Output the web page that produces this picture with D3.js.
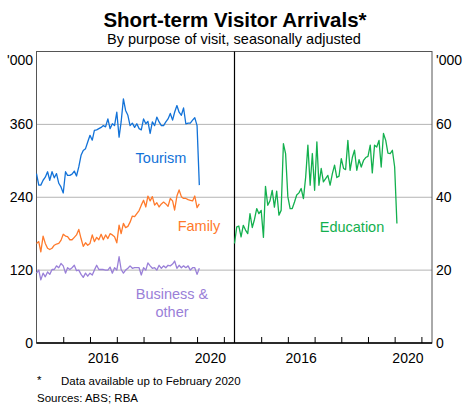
<!DOCTYPE html>
<html>
<head>
<meta charset="utf-8">
<script src="https://cdn.jsdelivr.net/npm/d3@7"></script>
<style>
  body { margin: 0; background: #fff; }
  svg { display: block; font-family: Arial, "Liberation Sans", sans-serif; }
</style>
</head>
<body>
<div id="chart"></div>
<script>
// Monthly values, January 2014 to February 2020 ('000)
const tourism = [279,260,260,268,273,282,268,282,272,279,263,257,247,282,276,276,278,283,275,290,
  309,317,320,331,342,334,350,351,353,355,358,356,369,353,361,358,380,339,364,402,
  383,375,358,362,355,361,353,351,369,361,365,345,364,358,372,364,358,358,364,369,
  378,367,380,391,380,375,387,361,362,362,367,371,358,260];
const family = [164,167,150,176,164,156,154,156,161,163,164,169,179,176,175,170,170,174,178,187,
  172,159,165,161,164,178,167,174,170,179,170,178,172,180,178,175,165,194,180,197,
  190,192,199,209,208,213,218,227,235,224,242,234,241,227,231,224,229,232,229,225,
  238,234,219,242,252,241,238,238,236,235,234,242,223,229];
const business = [115,120,104,115,109,117,113,121,121,127,124,131,127,115,124,121,124,128,119,120,
  113,108,115,110,115,112,120,128,121,121,121,120,120,125,115,124,120,142,121,115,
  120,123,127,123,124,124,124,112,124,120,132,127,123,124,120,128,123,127,124,128,
  127,130,135,123,128,124,127,124,127,120,124,124,113,123];
const education = [27.3,31.9,32.1,29.1,32.3,31.0,30.0,35.5,31.7,33.9,
  36.9,35.5,36.4,29.0,43.0,37.8,39.0,41.9,37.3,41.7,
  35.1,36.4,54.7,52.0,40.1,36.9,36.9,38.7,40.6,41.2,
  42.4,39.6,45.6,54.3,43.3,52.0,41.9,55.2,43.3,47.9,
  44.2,45.1,46.0,43.3,46.5,48.8,45.4,45.8,50.6,47.9,
  47.6,55.6,47.4,50.9,52.9,47.4,50.3,48.3,50.1,50.9,
  51.2,54.3,46.7,54.3,53.8,55.6,48.3,57.5,55.6,52.1,
  52.0,52.9,48.3,32.8];

const leftTicks = [0, 120, 240, 360];
const rightTicks = [0, 20, 40, 60];
const yearLabels = [2016, 2020];

const months = tourism.map((_, i) => new Date(2014, i, 1));

const W = 463, H = 406;
const plotTop = 51.5, plotBottom = 343;
const xL = [36.5, 234.5], xR = [234.5, 432];

const svg = d3.select("#chart").append("svg")
  .attr("width", W).attr("height", H);

const domain = [new Date(2014, 0, 1), new Date(2021, 4, 26)];
const xLeft = d3.scaleTime().domain(domain).range(xL);
const xRight = d3.scaleTime().domain(domain).range(xR);
const yLeft = d3.scaleLinear().domain([0, 480]).range([plotBottom, plotTop]);
const yRight = d3.scaleLinear().domain([0, 80]).range([plotBottom, plotTop]);

// gridlines
svg.append("g").selectAll("line")
  .data(leftTicks.filter(d => d > 0))
  .join("line")
  .attr("x1", xL[0]).attr("x2", xR[1])
  .attr("y1", d => yLeft(d)).attr("y2", d => yLeft(d))
  .attr("stroke", "#b4b4b4").attr("stroke-width", 1);

// frame
svg.append("rect")
  .attr("x", xL[0]).attr("y", plotTop)
  .attr("width", xR[1] - xL[0]).attr("height", plotBottom - plotTop)
  .attr("fill", "none").attr("stroke", "#555").attr("stroke-width", 1);
svg.append("line")
  .attr("x1", xL[1]).attr("x2", xL[1]).attr("y1", plotTop).attr("y2", plotBottom)
  .attr("stroke", "#000").attr("stroke-width", 1.2);
svg.append("line")
  .attr("x1", xL[0]).attr("x2", xR[1]).attr("y1", plotBottom).attr("y2", plotBottom)
  .attr("stroke", "#000").attr("stroke-width", 1.5);

// x ticks (inside, yearly)
[xLeft, xRight].forEach(x => {
  const g = svg.append("g").attr("transform", `translate(0,${plotBottom})`);
  g.call(d3.axisBottom(x).ticks(d3.timeYear.every(1)).tickSize(-6).tickFormat(""));
  g.select(".domain").remove();
  g.selectAll(".tick line").attr("stroke", "#000");
  g.selectAll(".tick").filter(d => d.getFullYear() === 2014).remove();
  svg.append("g").selectAll("text")
    .data(yearLabels)
    .join("text")
    .attr("x", d => x(new Date(d, 6, 1)))
    .attr("y", 363)
    .attr("text-anchor", "middle")
    .attr("font-size", 14)
    .attr("fill", "#000")
    .text(d => d);
});

// y tick labels
svg.append("g").selectAll("text")
  .data(leftTicks).join("text")
  .attr("x", 33).attr("y", d => yLeft(d)).attr("dy", "0.36em")
  .attr("text-anchor", "end").attr("font-size", 14).text(d => d);
svg.append("g").selectAll("text")
  .data(rightTicks).join("text")
  .attr("x", 436).attr("y", d => yRight(d)).attr("dy", "0.36em")
  .attr("text-anchor", "start").attr("font-size", 14).text(d => d);
svg.append("text").attr("x", 33).attr("y", 65).attr("text-anchor", "end")
  .attr("font-size", 14).text("'000");
svg.append("text").attr("x", 436).attr("y", 65).attr("text-anchor", "start")
  .attr("font-size", 14).text("'000");

// series
const series = [
  { values: tourism, x: xLeft, y: yLeft, color: "#1272d8" },
  { values: family, x: xLeft, y: yLeft, color: "#ff7a2c" },
  { values: business, x: xLeft, y: yLeft, color: "#9a80d8" },
  { values: education, x: xRight, y: yRight, color: "#13b04e" }
];
series.forEach(s => {
  const line = d3.line()
    .x((d, i) => s.x(months[i]))
    .y(d => s.y(d));
  svg.append("path")
    .attr("d", line(s.values))
    .attr("fill", "none")
    .attr("stroke", s.color)
    .attr("stroke-width", 1.3)
    .attr("stroke-linejoin", "round");
});

// series labels
const labels = [
  { text: ["Tourism"], x: 161, y: 163, color: "#1272d8" },
  { text: ["Family"], x: 199, y: 231, color: "#ff7a2c" },
  { text: ["Business &", "other"], x: 172, y: 299, color: "#9a80d8" },
  { text: ["Education"], x: 352, y: 232, color: "#13b04e" }
];
labels.forEach(l => {
  const t = svg.append("text")
    .attr("x", l.x).attr("y", l.y)
    .attr("text-anchor", "middle")
    .attr("font-size", 14.5)
    .attr("fill", l.color);
  l.text.forEach((line, i) => {
    t.append("tspan").attr("x", l.x).attr("dy", i === 0 ? 0 : 17.5).text(line);
  });
});

// titles
svg.append("text").attr("x", 235).attr("y", 27).attr("text-anchor", "middle")
  .attr("font-size", 20.5).attr("font-weight", "bold").text("Short-term Visitor Arrivals*");
svg.append("text").attr("x", 234).attr("y", 44).attr("text-anchor", "middle")
  .attr("font-size", 14.5).text("By purpose of visit, seasonally adjusted");

// footnotes
svg.append("text").attr("x", 37).attr("y", 384).attr("font-size", 11.5).text("*");
svg.append("text").attr("x", 61).attr("y", 385).attr("font-size", 11.5)
  .text("Data available up to February 2020");
svg.append("text").attr("x", 37).attr("y", 402).attr("font-size", 11.5)
  .text("Sources: ABS; RBA");
</script>
</body>
</html>
